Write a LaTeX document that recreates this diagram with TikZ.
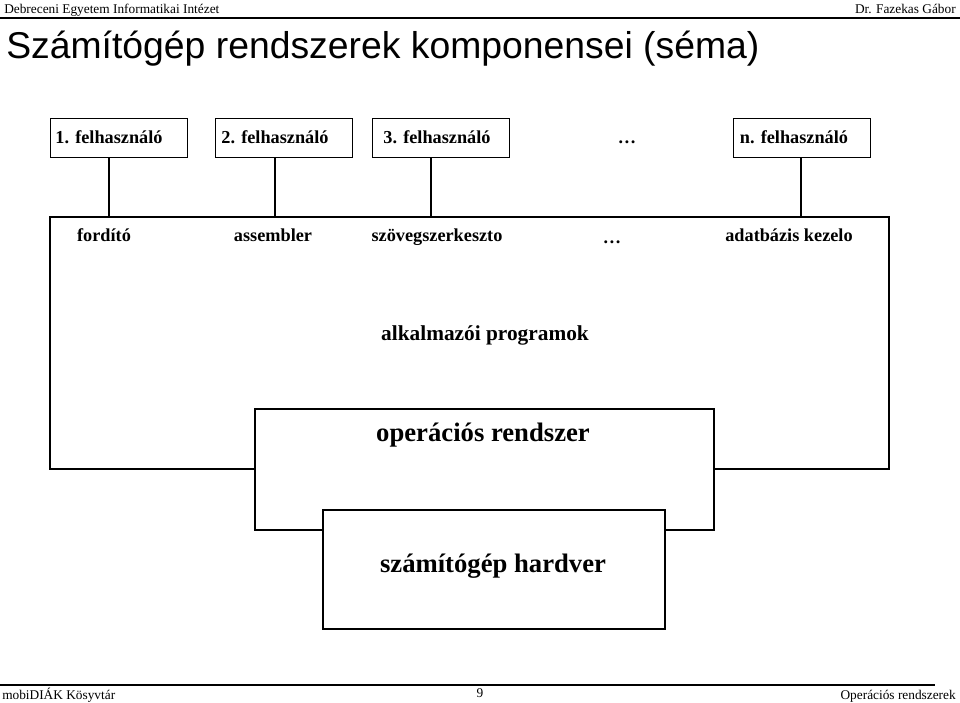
\documentclass[tikz,border=0pt]{standalone}
\usepackage{fontspec}
\setmainfont{Liberation Serif}
\newfontfamily\titlefont{Liberation Sans}
\begin{document}
\begin{tikzpicture}[x=0.75pt,y=-0.75pt,
  box/.style={draw,line width=0.9pt,fill=white},
  lbl/.style={font=\bfseries\fontsize{13.7}{16}\selectfont,inner sep=0,anchor=base},
  ubox/.style={box,minimum width=137*0.75pt,minimum height=39*0.75pt,anchor=north west},
  small/.style={inner sep=0,font=\fontsize{10}{12}\selectfont},
  conn/.style={line width=0.8pt}]
\useasboundingbox (0,0) rectangle (960,703);
% header
\node[small,anchor=base west] (h1) at (4,13) {Debreceni Egyetem Informatikai Intézet};
\node[small,anchor=base east] (h2) at (956,13) {Dr. Fazekas Gábor};
\draw[line width=1.2pt] (0,18) -- (960,18);
\node[anchor=base west,inner sep=0,font=\titlefont\fontsize{28}{32}\selectfont] (title) at (6,58) {Számítógép rendszerek komponensei (séma)};
% boxes
\draw[box] (50,217) rectangle (889,469);
\draw[box] (255,409) rectangle (714,530);
\draw[box] (323,510) rectangle (665,629);
\node[ubox] (u1) at (50,118) {};
\node[ubox] (u2) at (215,118) {};
\node[ubox] (u3) at (372,118) {};
\node[ubox] (un) at (733,118) {};
\node[lbl] (t1) at (109,143) {1. felhasználó};
\node[lbl] (t2) at (275,143) {2. felhasználó};
\node[lbl] (t3) at (437,143) {3. felhasználó};
\node[lbl] (ud) at (627,143) {…};
\node[lbl] (tn) at (794,143) {n. felhasználó};
\coordinate (c1) at (109,217);
\coordinate (c2) at (275,217);
\coordinate (c3) at (431,217);
\coordinate (cn) at (801,217);
\draw[conn] (u1.south -| c1) -- (c1);
\draw[conn] (u2.south -| c2) -- (c2);
\draw[conn] (u3.south -| c3) -- (c3);
\draw[conn] (un.south -| cn) -- (cn);
\node[lbl] (p1) at (104,241) {fordító};
\node[lbl] (p2) at (273,241) {assembler};
\node[lbl] (p3) at (437,241) {szövegszerkeszto};
\node[lbl] (p4) at (612,243) {…};
\node[lbl] (p5) at (789,241) {adatbázis kezelo};
\node[lbl,font=\bfseries\fontsize{16}{19}\selectfont] (app) at (485,340) {alkalmazói programok};
\node[lbl,font=\bfseries\fontsize{20}{24}\selectfont] (os) at (483,441) {operációs rendszer};
\node[lbl,font=\bfseries\fontsize{20}{24}\selectfont] (hw) at (493,572) {számítógép hardver};
% footer
\draw[line width=1.2pt] (0,685) -- (935,685);
\node[small,anchor=base west] (f1) at (2,699) {mobiDIÁK Kösyvtár};
\node[small,anchor=base] (f2) at (480,697) {9};
\node[small,anchor=base east] (f3) at (956,699) {Operációs rendszerek};
\end{tikzpicture}
\end{document}
